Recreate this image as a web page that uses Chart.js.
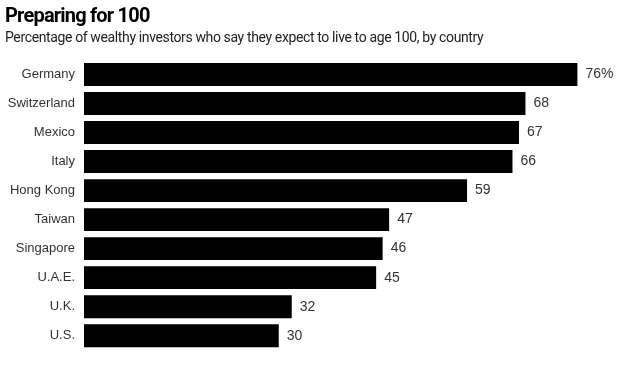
<!DOCTYPE html>
<html>
<head>
<meta charset="utf-8">
<script src="https://cdn.jsdelivr.net/npm/chart.js@4"></script>
<style>
  html, body { margin: 0; padding: 0; background: #fff; }
  #wrap { position: relative; width: 627px; height: 367px; }
  #title { position: absolute; left: 5px; top: 3px; font: bold 20px "Roboto", "Liberation Sans", sans-serif; letter-spacing: -0.8px; color: #000; }
  #sub { position: absolute; left: 5px; top: 29px; font: 14px "Roboto", "Liberation Sans", sans-serif; color: #222; letter-spacing: -0.37px; }
  canvas { position: absolute; left: 0; top: 0; }
</style>
</head>
<body>
<div id="wrap">
  <canvas id="myChart" width="627" height="367"></canvas>
  <div id="title">Preparing for 100</div>
  <div id="sub">Percentage of wealthy investors who say they expect to live to age 100, by country</div>
</div>
<script>
// Data
const countries = ['Germany', 'Switzerland', 'Mexico', 'Italy', 'Hong Kong',
  'Taiwan', 'Singapore', 'U.A.E.', 'U.K.', 'U.S.'];
const shares = [76, 68, 67, 66, 59, 47, 46, 45, 32, 30];

// Value labels at the end of each bar
const valueLabels = {
  id: 'valueLabels',
  afterDatasetsDraw(chart) {
    const ctx = chart.ctx;
    const meta = chart.getDatasetMeta(0);
    ctx.save();
    ctx.font = '14px "Liberation Sans", Arial, sans-serif';
    ctx.fillStyle = '#333';
    ctx.textBaseline = 'middle';
    meta.data.forEach((bar, i) => {
      const txt = shares[i] + (i === 0 ? '%' : '');
      ctx.fillText(txt, bar.x + 8, bar.y);
    });
    ctx.restore();
  }
};

const config = {
  type: 'bar',
  data: {
    labels: countries,
    datasets: [{
      data: shares,
      backgroundColor: '#000',
      barPercentage: 0.79,
      categoryPercentage: 1
    }]
  },
  options: {
    indexAxis: 'y',
    responsive: false,
    animation: false,
    layout: { padding: { top: 60, bottom: 15, left: 0, right: 10 } },
    plugins: { legend: { display: false }, tooltip: { enabled: false } },
    scales: {
      x: { display: false, min: 0, max: 82.1 },
      y: {
        grid: { display: false, drawTicks: false },
        border: { display: false },
        ticks: {
          padding: 9,
          color: '#333',
          font: { family: '"Liberation Sans", Arial, sans-serif', size: 13 }
        },
        afterFit(scale) { scale.width = 84; }
      }
    }
  },
  plugins: [valueLabels]
};

const myChart = new Chart(document.getElementById('myChart'), config);
</script>
</body>
</html>
